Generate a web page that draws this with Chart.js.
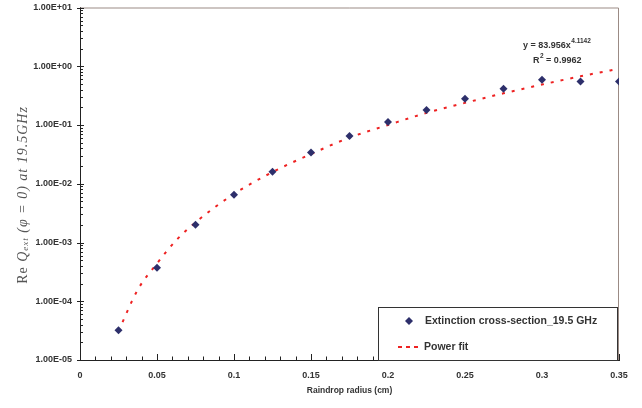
<!DOCTYPE html>
<html>
<head>
<meta charset="utf-8">
<script src="https://cdn.jsdelivr.net/npm/chart.js@4"></script>
<style>
  body { margin: 0; background: #fff; }
  #wrap { width: 642px; height: 408px; }
</style>
</head>
<body>
<div id="wrap"><canvas id="myChart" width="642" height="408"></canvas></div>
<script>
// values
let radius = [0.025, 0.05, 0.075, 0.1, 0.125, 0.15, 0.175, 0.2, 0.225, 0.25, 0.275, 0.3, 0.325, 0.35];
let extinction = [3.2e-5, 3.7e-4, 2.0e-3, 6.5e-3, 1.6e-2, 3.4e-2, 6.5e-2, 0.112, 0.18, 0.28, 0.415, 0.59, 0.55, 0.55];
let fitRadius = [0.025, 0.0375, 0.05, 0.0625, 0.075, 0.1, 0.125, 0.15, 0.175, 0.2, 0.225, 0.25, 0.275, 0.3, 0.325, 0.35];
let fitValues = [3.1e-5, 1.57e-4, 4.4e-4, 1.09e-3, 2.2e-3, 6.7e-3, 1.58e-2, 3.2e-2, 6.1e-2, 0.100, 0.161, 0.238, 0.346, 0.488, 0.675, 0.906];
let xTicks = [0, 0.05, 0.1, 0.15, 0.2, 0.25, 0.3, 0.35];
let xTickLabels = ['0', '0.05', '0.1', '0.15', '0.2', '0.25', '0.3', '0.35'];
let yTicks = [1e-5, 1e-4, 1e-3, 1e-2, 1e-1, 1, 10];
let yTickLabels = ['1.00E-05', '1.00E-04', '1.00E-03', '1.00E-02', '1.00E-01', '1.00E+00', '1.00E+01'];

const navy = '#2d2f6b';
const red = '#ee2222';
const textColor = '#333333';

// frame, inward tick marks, y title
const decor = {
  id: 'decor',
  beforeDatasetsDraw(chart) {
    const {ctx, chartArea: a, scales: {x, y}} = chart;
    ctx.save();
    ctx.strokeStyle = '#9b8b85';
    ctx.lineWidth = 1;
    ctx.beginPath();
    ctx.moveTo(a.left, a.top + 0.5);
    ctx.lineTo(a.right - 0.5, a.top + 0.5);
    ctx.lineTo(a.right - 0.5, a.bottom);
    ctx.stroke();

    ctx.strokeStyle = '#222';
    ctx.beginPath();
    for (let d = -5; d < 1; d++) {
      for (let m = 2; m <= 9; m++) {
        let py = Math.round(y.getPixelForValue(m * Math.pow(10, d))) + 0.5;
        ctx.moveTo(a.left, py);
        ctx.lineTo(a.left + 3, py);
      }
    }
    yTicks.forEach(v => {
      let py = Math.round(y.getPixelForValue(v)) + 0.5;
      ctx.moveTo(a.left - 3, py);
      ctx.lineTo(a.left + 4, py);
    });
    for (let i = 1; i <= 35; i++) {
      let px = Math.round(x.getPixelForValue(i / 100)) + 0.5;
      let len = (i % 5 === 0) ? 6 : 3.5;
      ctx.moveTo(px, a.bottom);
      ctx.lineTo(px, a.bottom - len);
    }
    ctx.stroke();

    // y axis title
    ctx.translate(23, 195);
    ctx.rotate(-Math.PI / 2);
    ctx.fillStyle = '#555';
    ctx.textBaseline = 'middle';
    ctx.letterSpacing = '1px';
    let parts = [
      ['Re ', '14px "Liberation Serif"', 0],
      ['Q', 'italic 14px "Liberation Serif"', 0],
      ['ext', 'italic 9px "Liberation Serif"', 3],
      [' (\u03c6 = 0) at 19.5GHz', 'italic 14px "Liberation Serif"', 0]
    ];
    let total = 0;
    parts.forEach(p => { ctx.font = p[1]; total += ctx.measureText(p[0]).width; });
    let cx = -total / 2;
    parts.forEach(p => {
      ctx.font = p[1];
      ctx.fillText(p[0], cx, p[2]);
      cx += ctx.measureText(p[0]).width;
    });
    ctx.restore();
  },
  afterDatasetsDraw(chart) {
    const {ctx} = chart;
    ctx.save();
    ctx.fillStyle = textColor;
    ctx.textBaseline = 'alphabetic';
    // trend equation
    ctx.font = 'bold 9px "Liberation Sans"';
    ctx.fillText('y = 83.956x', 523, 48);
    let w = ctx.measureText('y = 83.956x').width;
    ctx.font = 'bold 6.5px "Liberation Sans"';
    ctx.fillText('4.1142', 523 + w + 0.5, 43);
    ctx.font = 'bold 9px "Liberation Sans"';
    ctx.fillText('R', 533, 63);
    w = ctx.measureText('R').width;
    ctx.font = 'bold 6.5px "Liberation Sans"';
    ctx.fillText('2', 533 + w + 0.5, 58);
    let w2 = ctx.measureText('2').width;
    ctx.font = 'bold 9px "Liberation Sans"';
    ctx.fillText(' = 0.9962', 533 + w + w2 + 0.5, 63);

    // legend box
    ctx.fillStyle = '#fff';
    ctx.fillRect(378.5, 307.5, 239, 53);
    ctx.strokeStyle = '#333';
    ctx.lineWidth = 1;
    ctx.strokeRect(378.5, 307.5, 239, 53);
    ctx.fillStyle = navy;
    ctx.beginPath();
    ctx.moveTo(409, 317); ctx.lineTo(413, 321); ctx.lineTo(409, 325); ctx.lineTo(405, 321);
    ctx.closePath();
    ctx.fill();
    ctx.strokeStyle = red;
    ctx.lineWidth = 2;
    ctx.setLineDash([4, 4]);
    ctx.beginPath();
    ctx.moveTo(398, 347); ctx.lineTo(422, 347);
    ctx.stroke();
    ctx.setLineDash([]);
    ctx.fillStyle = textColor;
    ctx.font = 'bold 10.5px "Liberation Sans"';
    ctx.textBaseline = 'middle';
    ctx.fillText('Extinction cross-section_19.5 GHz', 425, 321);
    ctx.fillText('Power fit', 424, 347);
    ctx.restore();
  }
};

let chart = document.getElementById('myChart');
let config = {
  type: 'scatter',
  data: {
    datasets: [{
      label: 'Extinction cross-section_19.5 GHz',
      data: radius.map((r, i) => ({x: r, y: extinction[i]})),
      pointStyle: 'rectRot',
      pointRadius: 4,
      backgroundColor: navy,
      borderColor: navy,
      borderWidth: 0
    }, {
      label: 'Power fit',
      data: fitRadius.map((r, i) => ({x: r, y: fitValues[i]})),
      showLine: true,
      borderColor: red,
      borderWidth: 2,
      borderDash: [3, 7],
      cubicInterpolationMode: 'monotone',
      pointRadius: 0
    }]
  },
  options: {
    responsive: false,
    animation: false,
    layout: { padding: { left: 0, right: 23, top: 7.5, bottom: 0 } },
    plugins: { legend: { display: false }, tooltip: { enabled: false } },
    scales: {
      x: {
        type: 'linear',
        min: 0,
        max: 0.35,
        afterBuildTicks: s => { s.ticks = xTicks.map(v => ({value: v})); },
        afterFit: s => { s.height = 48; },
        grid: { display: false },
        border: { display: true, color: '#222', width: 1 },
        ticks: {
          padding: 2,
          color: textColor,
          font: { family: 'Liberation Sans', size: 9, weight: 'bold' },
          callback: (v, i) => xTickLabels[i]
        },
        title: {
          display: true,
          text: 'Raindrop radius (cm)',
          color: textColor,
          font: { family: 'Liberation Sans', size: 8.5, weight: 'bold' },
          padding: { top: 4, bottom: 12 }
        }
      },
      y: {
        type: 'logarithmic',
        min: 1e-5,
        max: 10,
        afterBuildTicks: s => { s.ticks = yTicks.map(v => ({value: v})); },
        afterFit: s => { s.width = 80; },
        grid: { display: false },
        border: { display: true, color: '#222', width: 1 },
        ticks: {
          padding: 0,
          color: textColor,
          font: { family: 'Liberation Sans', size: 9, weight: 'bold' },
          callback: (v, i) => yTickLabels[i]
        }
      }
    }
  },
  plugins: [decor]
};
let myChart = new Chart(chart, config);
</script>
</body>
</html>
